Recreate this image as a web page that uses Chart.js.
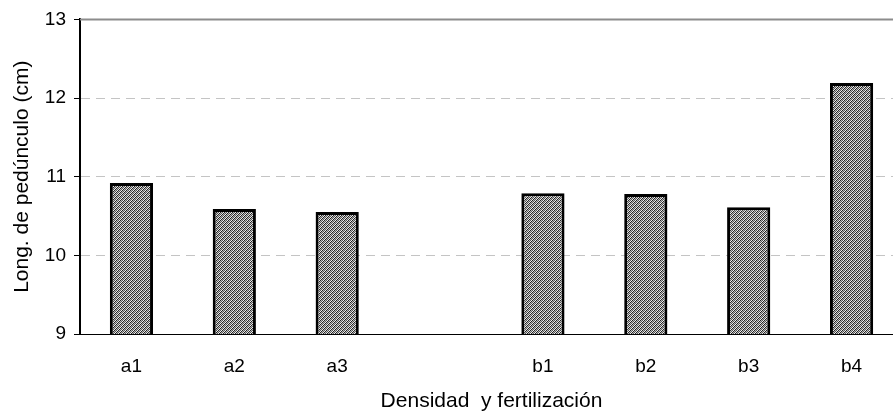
<!DOCTYPE html>
<html>
<head>
<meta charset="utf-8">
<script src="https://cdn.jsdelivr.net/npm/chart.js@4"></script>
<style>
  html, body { margin: 0; padding: 0; background: #fff; overflow: hidden; }
  #wrap { width: 903px; height: 416px; }
</style>
</head>
<body>
<div id="wrap"><canvas id="chart"></canvas></div>
<script>
// categorias (hueco entre a3 y b1)
const categories = ["a1", "a2", "a3", "", "b1", "b2", "b3", "b4"];
const longPedunculo = [10.92, 10.59, 10.55, null, 10.79, 10.78, 10.61, 12.19];
const yTicks = [9, 10, 11, 12, 13];

// patron rayado fino de las barras
function hatchPattern() {
  const c = document.createElement("canvas");
  c.width = 4; c.height = 4;
  const g = c.getContext("2d");
  const cols = ["#222", "#bbb", "#555", "#eee"];
  for (let x = 0; x < 4; x++) {
    for (let y = 0; y < 4; y++) {
      g.fillStyle = cols[(x + y) % 4];
      g.fillRect(x, y, 1, 1);
    }
  }
  return g.createPattern(c, "repeat");
}

// linea gris superior del area
const topLine = {
  id: "topLine",
  afterDraw(chart) {
    const a = chart.chartArea, ctx = chart.ctx;
    ctx.save();
    ctx.strokeStyle = "#8c8c8c";
    ctx.lineWidth = 2;
    ctx.beginPath();
    ctx.moveTo(a.left, a.top);
    ctx.lineTo(a.right, a.top);
    ctx.stroke();
    ctx.restore();
  }
};

const font = "'Liberation Sans', Arial, sans-serif";

new Chart(document.getElementById("chart"), {
  type: "bar",
  data: {
    labels: categories,
    datasets: [{
      data: longPedunculo,
      backgroundColor: hatchPattern(),
      borderColor: "#000",
      borderWidth: 3,
      borderSkipped: false,
      categoryPercentage: 1,
      barPercentage: 0.42
    }]
  },
  options: {
    responsive: true,
    maintainAspectRatio: false,
    animation: false,
    layout: { padding: { top: 19, right: 0, left: 0, bottom: 0 } },
    plugins: { legend: { display: false }, tooltip: { enabled: false } },
    scales: {
      x: {
        grid: { display: false, drawTicks: false },
        border: { color: "#000", width: 1 },
        ticks: { color: "#000", font: { family: font, size: 19 }, padding: 21 },
        title: {
          display: true,
          text: "Densidad  y fertilización",
          color: "#000",
          font: { family: font, size: 21 },
          padding: { top: 8, bottom: 2 }
        },
        afterFit: s => { s.height = 82; }
      },
      y: {
        min: 9,
        max: 13,
        afterBuildTicks: s => { s.ticks = yTicks.map(v => ({ value: v })); },
        grid: {
          color: c => (c.tick && (c.tick.value === 9 || c.tick.value === 13)) ? "rgba(0,0,0,0)" : "#c4c4c4",
          tickColor: "#000",
          tickLength: 6,
          lineWidth: 1
        },
        border: { color: "#000", width: 2, dash: [9, 6] },
        ticks: { color: "#000", font: { family: font, size: 19 }, padding: 8 },
        title: {
          display: true,
          text: "Long. de pedúnculo (cm)",
          color: "#000",
          font: { family: font, size: 21 },
          padding: { top: 10, bottom: 4 }
        },
        afterFit: s => { s.width = 80; }
      }
    }
  },
  plugins: [topLine]
});
</script>
</body>
</html>
